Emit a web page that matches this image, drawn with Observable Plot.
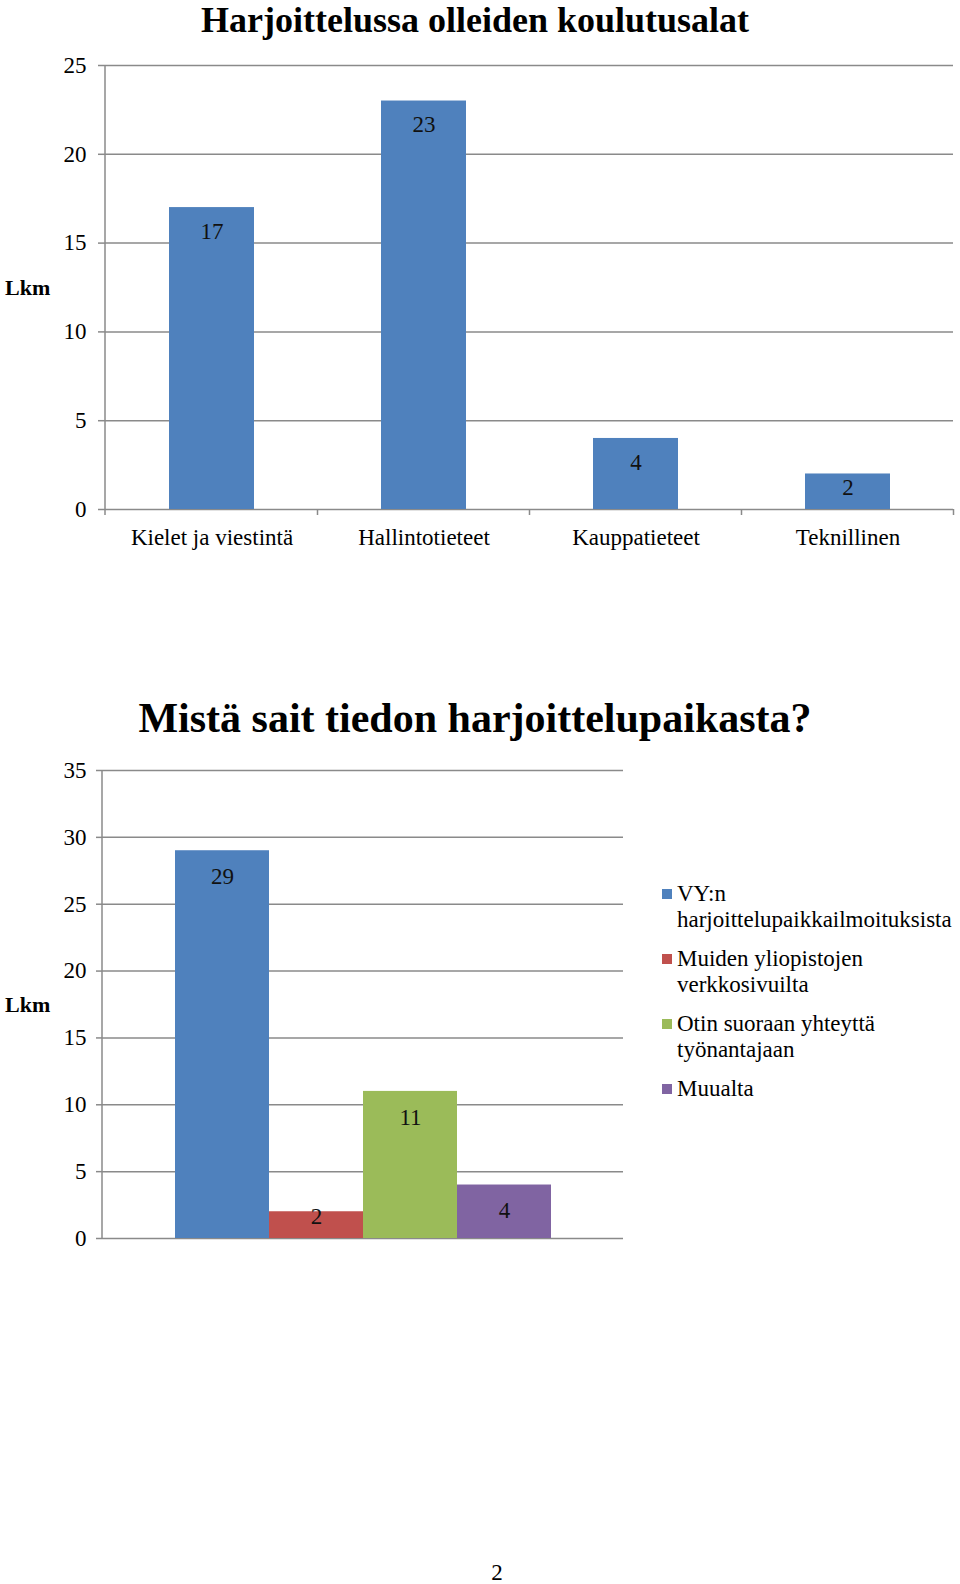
<!DOCTYPE html>
<html>
<head>
<meta charset="utf-8">
<script src="https://cdn.jsdelivr.net/npm/d3@7"></script>
<script src="https://cdn.jsdelivr.net/npm/@observablehq/plot@0.6"></script>
<style>
  html, body { margin: 0; padding: 0; background: #fff; }
  #page { position: relative; width: 960px; height: 1584px; overflow: hidden;
          font-family: "Liberation Serif", "Times New Roman", serif; color: #000; }
  .abs { position: absolute; }
  .title { left: 0; width: 950px; text-align: center; font-weight: bold; white-space: nowrap; }
  .lkm { font-weight: bold; font-size: 22px; line-height: 24px; }
  #legend2 { left: 662px; top: 881px; width: 298px; font-size: 23px; line-height: 26px; }
  .item { display: flex; align-items: flex-start; margin-bottom: 13px; }
  .sw { width: 10px; height: 10px; margin-top: 8px; margin-right: 5px; flex: none; }
  .lab { width: 283px; }
  #pageno { left: 480px; width: 34px; top: 1560px; text-align: center; font-size: 23px; line-height: 26px; }
</style>
</head>
<body>
<div id="page">
  <div class="abs title" style="top:0px;font-size:36px;line-height:40px;">Harjoittelussa olleiden koulutusalat</div>
  <div class="abs" id="c1" style="left:0;top:40px;"></div>
  <div class="abs lkm" style="left:5px;top:276px;">Lkm</div>

  <div class="abs title" style="top:695px;font-size:42px;line-height:46px;">Mistä sait tiedon harjoittelupaikasta?</div>
  <div class="abs" id="c2" style="left:0;top:745px;"></div>
  <div class="abs lkm" style="left:5px;top:993px;">Lkm</div>
  <div class="abs" id="legend2"></div>

  <div class="abs" id="pageno">2</div>
</div>
<script>
// ---- Data ----
const categories1 = ["Kielet ja viestintä", "Hallintotieteet", "Kauppatieteet", "Teknillinen"];
const counts1 = [17, 23, 4, 2];
const yTicks1 = [0, 5, 10, 15, 20, 25];

const sources2 = ["VY:n harjoittelupaikkailmoituksista", "Muiden yliopistojen verkkosivuilta", "Otin suoraan yhteyttä työnantajaan", "Muualta"];
const counts2 = [29, 2, 11, 4];
const yTicks2 = [0, 5, 10, 15, 20, 25, 30, 35];

// ---- Styles ----
const BLUE = "#4F81BD";
const colors2 = ["#4F81BD", "#C0504D", "#9BBB59", "#8064A2"];
const GRID = "#8a8a8a";
const FONT = "'Liberation Serif', 'Times New Roman', serif";

function axisLines(tickLen, boundaries) {
  return (index, scales, values, dims) => {
    const g = d3.create("svg:g").attr("stroke", GRID).attr("stroke-width", 1.5);
    const y0 = dims.height - dims.marginBottom;
    g.append("line")
      .attr("x1", dims.marginLeft).attr("x2", dims.marginLeft)
      .attr("y1", dims.marginTop).attr("y2", y0 + (boundaries ? tickLen : 0));
    if (boundaries) {
      const x = scales.x;
      const step = typeof x.step === "function" ? x.step() : x.step;
      const bw = typeof x.bandwidth === "function" ? x.bandwidth() : x.bandwidth;
      for (const c of x.domain()) {
        const b = x(c) + bw / 2 + step / 2;
        g.append("line").attr("x1", b).attr("x2", b).attr("y1", y0).attr("y2", y0 + tickLen);
      }
    }
    return g.node();
  };
}

// ---- Chart 1 ----
const H1 = 520, m1 = {top: 25, right: 7, bottom: 51, left: 105};
const ppu1 = (H1 - m1.top - m1.bottom) / d3.max(yTicks1);
const data1 = categories1.map((c, i) => ({cat: c, n: counts1[i]}));
const chart1 = Plot.plot({
  width: 960, height: H1,
  marginTop: m1.top, marginRight: m1.right, marginBottom: m1.bottom, marginLeft: m1.left,
  style: {fontFamily: FONT, fontSize: "23px", color: "#000", background: "transparent"},
  x: {domain: categories1, paddingInner: 0.6, paddingOuter: 0.3, label: null},
  y: {domain: [0, d3.max(yTicks1)], label: null},
  marks: [
    Plot.gridY({ticks: yTicks1, stroke: GRID, strokeOpacity: 1, strokeWidth: 1.5}),
    Plot.axisY({ticks: yTicks1, tickSize: 7, tickPadding: 12, stroke: GRID, strokeWidth: 1.5, strokeOpacity: 1, fill: "#000", fontSize: 23, label: null}),
    Plot.axisX({tickSize: 0, tickPadding: 19, fill: "#000", fontSize: 23, label: null}),
    Plot.barY(data1, {x: "cat", y: "n", fill: BLUE}),
    Plot.text(data1, {x: "cat", y: d => Math.max(d.n - 24 / ppu1, 22 / ppu1), text: d => String(d.n), fontSize: 23, fill: "#111"}),
    axisLines(6, true)
  ]
});
document.getElementById("c1").appendChild(chart1);

// ---- Chart 2 ----
const H2 = 520, m2 = {top: 25, right: 337, bottom: 27, left: 102};
const ppu2 = (H2 - m2.top - m2.bottom) / d3.max(yTicks2);
const data2 = sources2.map((s, i) => ({src: s, n: counts2[i]}));
const chart2 = Plot.plot({
  width: 960, height: H2,
  marginTop: m2.top, marginRight: m2.right, marginBottom: m2.bottom, marginLeft: m2.left,
  style: {fontFamily: FONT, fontSize: "23px", color: "#000", background: "transparent"},
  x: {domain: sources2, paddingInner: 0, paddingOuter: 0.77, axis: null},
  y: {domain: [0, d3.max(yTicks2)], label: null},
  color: {domain: sources2, range: colors2},
  marks: [
    Plot.gridY({ticks: yTicks2, stroke: GRID, strokeOpacity: 1, strokeWidth: 1.5}),
    Plot.axisY({ticks: yTicks2, tickSize: 6, tickPadding: 10, stroke: GRID, strokeWidth: 1.5, strokeOpacity: 1, fill: "#000", fontSize: 23, label: null}),
    Plot.barY(data2, {x: "src", y: "n", fill: "src"}),
    Plot.text(data2, {x: "src", y: d => Math.max(d.n - 26 / ppu2, 22 / ppu2), text: d => String(d.n), fontSize: 23, fill: "#111"}),
    axisLines(0, false)
  ]
});
document.getElementById("c2").appendChild(chart2);

// ---- Legend for chart 2 (colors from the chart's color scale) ----
const colorScale = chart2.scale("color");
const legend = d3.select("#legend2");
sources2.forEach((s, i) => {
  const it = legend.append("div").attr("class", "item");
  it.append("div").attr("class", "sw").style("background", colorScale.range[i]);
  it.append("div").attr("class", "lab").text(s);
});
</script>
</body>
</html>
